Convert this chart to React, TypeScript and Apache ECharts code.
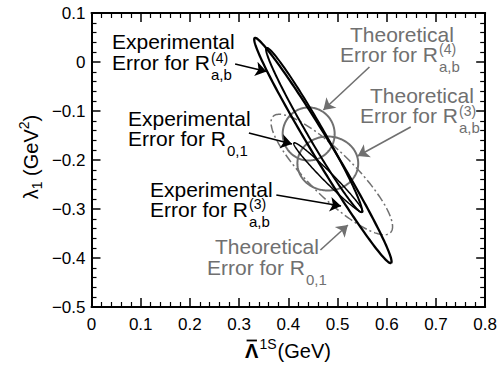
import React, { useEffect, useRef } from "react";
import * as echarts from "echarts";

// ---------- axis ranges ----------
const X_MIN = 0;
const X_MAX = 0.8;
const X_STEP = 0.1;
const Y_MIN = -0.5;
const Y_MAX = 0.1;
const Y_STEP = 0.1;

// ---------- ellipses: [cx, cy, semiAxisU.x, semiAxisU.y, semiAxisV.x, semiAxisV.y] (data units) ----------
const expLong = [0.4702, -0.1806, 0.1385, -0.2296, 0.0169, 0.0107];
const expShort = [0.4523, -0.1388, 0.0966, -0.1674, 0.0138, 0.0083];
const expR01 = [0.4812, -0.2357, 0.0698, -0.0704, 0.007, 0.0073];
const theoR4 = [0.4413, -0.1469, 0.0528, 0, 0, 0.0541];
const theoR3 = [0.4802, -0.2071, 0.0618, 0, 0, 0.0551];
const theoR01 = [0.4883, -0.2296, 0.1195, -0.1184, 0.0311, 0.0331];

// ---------- arrows: [x1, y1, x2, y2] (data units), tail -> head ----------
const blackArrows = [
  [0.2919, -0.0041, 0.3557, -0.0194],
  [0.3198, -0.1449, 0.4074, -0.1673],
  [0.3756, -0.2714, 0.5071, -0.2939],
];
const grayArrows = [
  [0.5648, -0.0102, 0.4712, -0.098],
  [0.6486, -0.1327, 0.541, -0.1918],
  [0.4652, -0.3837, 0.521, -0.3327],
];

// ---------- annotation texts ----------
const labelTexts = [
  { l1: "Experimental", l2: "Error for R", sup: "(4)", sub: "a,b", gray: false },
  { l1: "Experimental", l2: "Error for R", sup: "", sub: "0,1", gray: false },
  { l1: "Experimental", l2: "Error for R", sup: "(3)", sub: "a,b", gray: false },
  { l1: "Theoretical", l2: "Error for R", sup: "(4)", sub: "a,b", gray: true },
  { l1: "Theoretical", l2: "Error for R", sup: "(3)", sub: "a,b", gray: true },
  { l1: "Theoretical", l2: "Error for R", sup: "", sub: "0,1", gray: true },
];
// layout (pixels): left of line1, cap-centre y of line1, left of line2, cap-centre y of line2
const labelLayout = [
  [112, 41.5, 112, 62.5],
  [128, 118, 128, 138],
  [150, 189, 150, 209],
  [350, 34.5, 340, 54],
  [370, 95.5, 360, 115.5],
  [215, 246, 207, 267],
];

const yTitle = { base: "\u03bb", sub: "1", rest: " (GeV", sup: "2", close: ")" };
const xTitle = { base: "\u039b", sup: "1S", rest: "(GeV)" };

const FAMILY = "'Liberation Sans', Arial, Helvetica, sans-serif";
const BLACK = "#000000";
const GRAY = "#707070";

function measure(s: string, size: number, weight = "normal"): number {
  const c = document.createElement("canvas").getContext("2d");
  if (!c) return s.length * size * 0.55;
  c.font = `${weight} ${size}px ${FAMILY}`;
  return c.measureText(s).width;
}

function ellipseSeries(params: number[], color: string, width: number, dash?: number[]) {
  return {
    type: "custom",
    xAxisIndex: 0,
    yAxisIndex: 0,
    silent: true,
    clip: false,
    data: [params],
    encode: { x: 0, y: 1 },
    renderItem: (_p: any, api: any) => {
      const cx = api.value(0);
      const cy = api.value(1);
      const ux = api.value(2);
      const uy = api.value(3);
      const vx = api.value(4);
      const vy = api.value(5);
      const pts: number[][] = [];
      const N = 180;
      for (let i = 0; i <= N; i++) {
        const t = (2 * Math.PI * i) / N;
        pts.push(api.coord([cx + ux * Math.cos(t) + vx * Math.sin(t), cy + uy * Math.cos(t) + vy * Math.sin(t)]));
      }
      return {
        type: "polyline",
        shape: { points: pts },
        style: { fill: "none", stroke: color, lineWidth: width, lineDash: dash || null },
      };
    },
  };
}

function arrowSeries(arr: number[][], color: string) {
  return {
    type: "lines",
    coordinateSystem: "cartesian2d",
    xAxisIndex: 0,
    yAxisIndex: 0,
    silent: true,
    symbol: ["none", "arrow"],
    symbolSize: 11,
    lineStyle: { color, width: 1.6, opacity: 1, curveness: 0 },
    data: arr.map((a) => ({ coords: [[a[0], a[1]], [a[2], a[3]]] })),
  };
}

function txt(x: number, y: number, s: string, size: number, color: string, lh: number, weight = "normal", align = "left") {
  return {
    type: "text",
    x,
    y,
    silent: true,
    style: {
      text: s,
      fontSize: size,
      fontFamily: FAMILY,
      fontWeight: weight,
      lineHeight: lh,
      fill: color,
      textAlign: align,
      align,
      textVerticalAlign: "middle",
      verticalAlign: "middle",
    },
  };
}

function buildLabels() {
  const els: any[] = [];
  const MAIN = 21;
  const SMALL = 15;
  labelTexts.forEach((lab, i) => {
    const [x1, y1, x2, y2] = labelLayout[i];
    const color = lab.gray ? GRAY : BLACK;
    els.push(txt(x1, y1, lab.l1, MAIN, color, 16));
    els.push(txt(x2, y2, lab.l2, MAIN, color, 16));
    const endX = x2 + measure(lab.l2, MAIN) + 1;
    if (lab.sup) els.push(txt(endX, y2 - 5, lab.sup, SMALL - 1, color, 10));
    if (lab.sub) els.push(txt(endX, y2 + 12, lab.sub, SMALL, color, 10));
  });
  return els;
}

function buildTitles() {
  const els: any[] = [];
  // x-axis title: Λ̄^{1S}(GeV)
  const big = 20;
  const small = 14;
  const wBase = measure(xTitle.base, big, "bold");
  const wSup = measure(xTitle.sup, small);
  const wRest = measure(xTitle.rest, big);
  const total = wBase + wSup + 2 + wRest;
  const cx = 288;
  const cy = 351;
  let x = cx - total / 2;
  els.push(txt(x, cy, xTitle.base, big, BLACK, 16, "bold"));
  els.push({
    type: "line",
    silent: true,
    shape: { x1: x + 1.5, y1: cy - 10.5, x2: x + wBase - 1.5, y2: cy - 10.5 },
    style: { stroke: BLACK, lineWidth: 1.8 },
  });
  x += wBase + 1;
  els.push(txt(x, cy - 7, xTitle.sup, small, BLACK, 10));
  x += wSup + 1;
  els.push(txt(x, cy, xTitle.rest, big, BLACK, 16));

  // y-axis title: λ_1 (GeV^2), rotated, reading bottom to top
  const parts = [
    { s: yTitle.base, size: big, off: 0 },
    { s: yTitle.sub, size: small, off: 6 },
    { s: yTitle.rest, size: big, off: 0 },
    { s: yTitle.sup, size: small, off: -7 },
    { s: yTitle.close, size: big, off: 0 },
  ];
  const widths = parts.map((p) => measure(p.s, p.size));
  const tot = widths.reduce((a, b) => a + b, 0);
  const ycx = 31;
  const ycy = 157;
  let yy = ycy + tot / 2;
  parts.forEach((p, i) => {
    els.push({
      type: "text",
      x: ycx + p.off,
      y: yy,
      rotation: Math.PI / 2,
      silent: true,
      style: {
        text: p.s,
        fontSize: p.size,
        fontFamily: FAMILY,
        lineHeight: p.size === big ? 16 : 10,
        fill: BLACK,
        textAlign: "left",
        align: "left",
        textVerticalAlign: "middle",
        verticalAlign: "middle",
      },
    });
    yy -= widths[i];
  });
  return els;
}

const axisCommon = {
  type: "value",
  axisLine: { show: true, onZero: false, lineStyle: { color: "#000", width: 2 } },
  axisTick: { show: true, inside: true, length: 9, lineStyle: { color: "#000", width: 1.5 } },
  minorTick: { show: true, splitNumber: 5, length: 5, lineStyle: { color: "#000", width: 1.2 } },
  splitLine: { show: false },
  minorSplitLine: { show: false },
};

function fmt(v: number): string {
  if (Math.abs(v) < 1e-9) return "0";
  return (v < 0 ? "\u2212" : "") + Math.abs(v).toFixed(1);
}

export default function App() {
  const ref = useRef<HTMLDivElement>(null);
  useEffect(() => {
    if (!ref.current) return;
    const chart = echarts.init(ref.current, null, { renderer: "svg" });
    const labelStyle = { color: "#000", fontSize: 17, fontFamily: FAMILY };
    chart.setOption({
      animation: false,
      backgroundColor: "#fff",
      grid: { left: 91.5, right: 7, top: 13, bottom: 59, containLabel: false },
      xAxis: [
        {
          ...axisCommon,
          position: "bottom",
          min: X_MIN,
          max: X_MAX,
          interval: X_STEP,
          axisLabel: { ...labelStyle, margin: 9, formatter: fmt },
        },
        {
          ...axisCommon,
          position: "top",
          min: X_MIN,
          max: X_MAX,
          interval: X_STEP,
          axisLabel: { show: false },
        },
      ],
      yAxis: [
        {
          ...axisCommon,
          position: "left",
          min: Y_MIN,
          max: Y_MAX,
          interval: Y_STEP,
          axisLabel: { ...labelStyle, margin: 6, formatter: fmt },
        },
        {
          ...axisCommon,
          position: "right",
          min: Y_MIN,
          max: Y_MAX,
          interval: Y_STEP,
          axisLabel: { show: false },
        },
      ],
      series: [
        ellipseSeries(theoR4, GRAY, 2),
        ellipseSeries(theoR3, GRAY, 2),
        ellipseSeries(theoR01, GRAY, 1.5, [9, 3, 2, 3]),
        ellipseSeries(expLong, BLACK, 2.3),
        ellipseSeries(expShort, BLACK, 2),
        ellipseSeries(expR01, BLACK, 1.5),
        arrowSeries(blackArrows, BLACK),
        arrowSeries(grayArrows, GRAY),
      ],
      graphic: [...buildLabels(), ...buildTitles()],
    });
    return () => chart.dispose();
  }, []);
  return <div ref={ref} style={{ width: 500, height: 366, position: "absolute", left: 0, top: 0 }} />;
}
